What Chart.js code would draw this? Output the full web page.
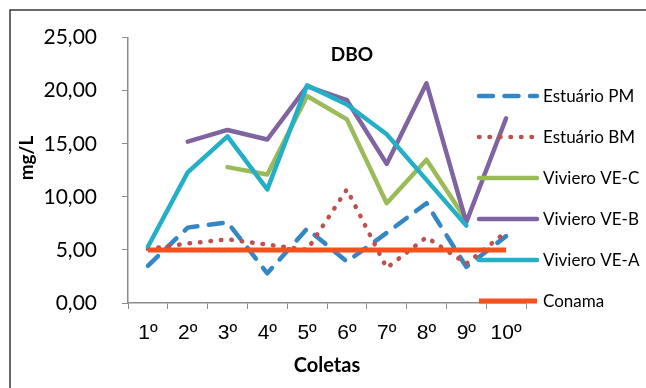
<!DOCTYPE html>
<html>
<head>
<meta charset="utf-8">
<script src="https://cdn.jsdelivr.net/npm/chart.js@4"></script>
<style>
  html, body { margin: 0; padding: 0; background: #ffffff; }
  #wrap { position: relative; width: 646px; height: 388px; }
</style>
</head>
<body>
<div id="wrap"><canvas id="dbo" width="646" height="388"></canvas></div>
<script>
// DBO (mg/L) por coleta
const coletas = ['1º', '2º', '3º', '4º', '5º', '6º', '7º', '8º', '9º', '10º'];
const estuarioPM = [3.5, 7.1, 7.6, 2.8, 7.0, 3.9, 6.6, 9.4, 3.4, 6.3];
const estuarioBM = [5.1, 5.6, 6.0, 5.5, 5.0, 10.7, 3.3, 6.2, 3.7, 6.7];
const vivieroVEC = [null, null, 12.8, 12.1, 19.5, 17.3, 9.4, 13.5, 7.8, null];
const vivieroVEB = [null, 15.2, 16.3, 15.4, 20.4, 19.1, 13.1, 20.7, 7.6, 17.4];
const vivieroVEA = [5.3, 12.3, 15.7, 10.7, 20.5, 18.7, 15.9, 11.6, 7.3, null];
const conama = [5, 5, 5, 5, 5, 5, 5, 5, 5, 5];
const yTicks = [0, 5, 10, 15, 20, 25];

const FONT = 'Lato, "Open Sans", sans-serif';
const TICK_FONT = '"Liberation Sans", Arial, sans-serif';

function serie(label, data, color, extra) {
  return Object.assign({
    label, data,
    borderColor: color,
    backgroundColor: color,
    borderWidth: 4.5,
    pointRadius: 0,
    pointHoverRadius: 0,
    tension: 0,
    fill: false,
    spanGaps: false,
    borderCapStyle: 'round',
    borderJoinStyle: 'round'
  }, extra || {});
}

const datasets = [
  serie('Estuário PM', estuarioPM, '#3487c4', { borderDash: [14, 11.5] }),
  serie('Estuário BM', estuarioBM, '#c0504d', { borderWidth: 4.5, borderDash: [0.5, 10] }),
  serie('Viviero VE-C', vivieroVEC, '#9bbb59'),
  serie('Viviero VE-B', vivieroVEB, '#8064a2'),
  serie('Viviero VE-A', vivieroVEA, '#23afc6'),
  serie('Conama', conama, '#f4511e', { borderWidth: 5, borderCapStyle: 'butt' })
];
// later series are painted above earlier ones
datasets.forEach((d, i) => { d.order = datasets.length - i; });

// frame, titles and legend
const decor = {
  id: 'decor',
  beforeDraw(chart) {
    const ctx = chart.ctx;
    ctx.save();
    ctx.strokeStyle = '#3a3a3a';
    ctx.lineWidth = 1.5;
    ctx.beginPath();
    ctx.moveTo(10, 388);
    ctx.lineTo(10, 10);
    ctx.lineTo(646, 10);
    ctx.stroke();
    ctx.restore();
  },
  afterDraw(chart) {
    const ctx = chart.ctx;
    const area = chart.chartArea;
    ctx.save();
    ctx.fillStyle = '#000000';
    ctx.textAlign = 'center';
    ctx.textBaseline = 'middle';

    ctx.font = 'bold 19px ' + FONT;
    ctx.fillText('DBO', 352, 55);

    ctx.font = 'bold 20px ' + FONT;
    ctx.fillText('Coletas', (area.left + area.right) / 2, 366);

    ctx.save();
    ctx.translate(27, 158);
    ctx.rotate(-Math.PI / 2);
    ctx.font = 'bold 19px ' + FONT;
    ctx.fillText('mg/L', 0, 0);
    ctx.restore();

    // legend
    ctx.font = '17px ' + FONT;
    ctx.textAlign = 'left';
    chart.data.datasets.forEach((ds, i) => {
      const y = 96 + i * 41;
      ctx.save();
      ctx.strokeStyle = ds.borderColor;
      ctx.lineWidth = ds.borderWidth;
      ctx.lineCap = ds.borderCapStyle || 'round';
      ctx.setLineDash(ds.borderDash || []);
      ctx.beginPath();
      ctx.moveTo(479, y);
      ctx.lineTo(537, y);
      ctx.stroke();
      ctx.restore();
      ctx.fillStyle = '#000000';
      ctx.fillText(ds.label, 543, y + 1);
    });
    ctx.restore();
  }
};

new Chart(document.getElementById('dbo'), {
  type: 'line',
  data: { labels: coletas, datasets },
  plugins: [decor],
  options: {
    responsive: false,
    animation: false,
    events: [],
    layout: { padding: { top: 34, right: 120, bottom: 0, left: 0 } },
    plugins: {
      legend: { display: false },
      title: { display: false },
      tooltip: { enabled: false }
    },
    scales: {
      x: {
        offset: true,
        afterFit(scale) { scale.height = 85; },
        grid: {
          display: true,
          offset: true,
          drawOnChartArea: false,
          drawTicks: true,
          tickLength: 6,
          color: '#8c8c8c',
          lineWidth: 1
        },
        border: { display: true, color: '#8c8c8c', width: 1.5 },
        ticks: {
          color: '#000000',
          font: { family: TICK_FONT, size: 21 },
          padding: 12,
          maxRotation: 0,
          autoSkip: false
        }
      },
      y: {
        min: yTicks[0],
        max: yTicks[yTicks.length - 1],
        afterFit(scale) { scale.width = 128; },
        afterBuildTicks(scale) { scale.ticks = yTicks.map(v => ({ value: v })); },
        grid: {
          display: true,
          drawOnChartArea: false,
          drawTicks: true,
          tickLength: 6,
          color: '#8c8c8c',
          lineWidth: 1
        },
        border: { display: true, color: '#8c8c8c', width: 1.5 },
        ticks: {
          color: '#000000',
          font: { family: FONT, size: 21 },
          padding: 25,
          callback: v => Number(v).toFixed(2).replace('.', ',')
        }
      }
    }
  }
});
</script>
</body>
</html>
